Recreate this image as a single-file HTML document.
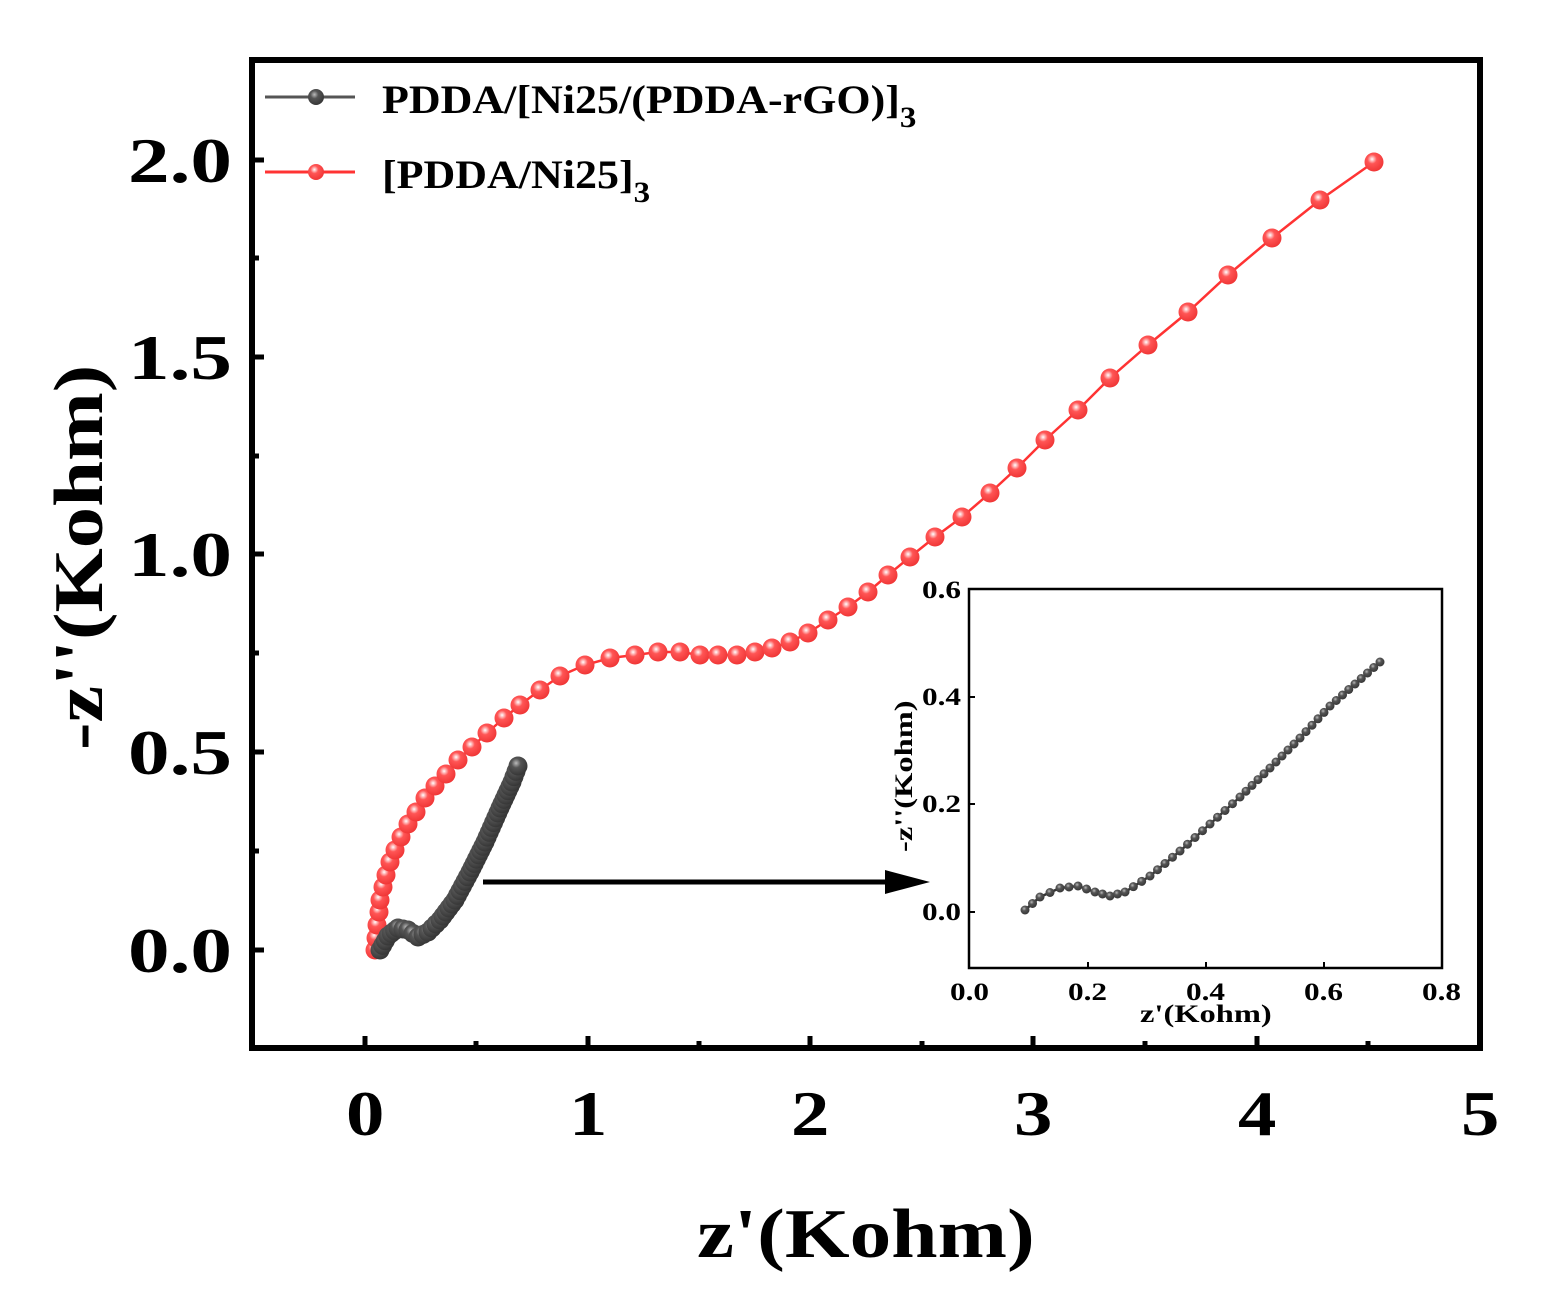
<!DOCTYPE html>
<html><head><meta charset="utf-8"><style>
body{margin:0;background:#fff}
svg text{font-family:"Liberation Serif",serif;font-weight:bold}
</style></head><body>
<svg id="s" width="1541" height="1305" viewBox="0 0 1541 1305" xmlns="http://www.w3.org/2000/svg">
<defs>
<radialGradient id="rg" cx="0.4" cy="0.35" r="0.7"><stop offset="0" stop-color="#fff"/><stop offset="0.35" stop-color="#f55"/><stop offset="1" stop-color="#e33"/></radialGradient>
<radialGradient id="gg" cx="0.4" cy="0.35" r="0.7"><stop offset="0" stop-color="#bbb"/><stop offset="0.35" stop-color="#555"/><stop offset="1" stop-color="#333"/></radialGradient>
</defs>
<rect x="252" y="60" width="1228" height="988" fill="none" stroke="#000" stroke-width="6"/>
<g stroke="#000" stroke-width="5">
<line x1="365" y1="1048" x2="365" y2="1036"/><line x1="588" y1="1048" x2="588" y2="1036"/><line x1="810" y1="1048" x2="810" y2="1036"/><line x1="1033" y1="1048" x2="1033" y2="1036"/><line x1="1257" y1="1048" x2="1257" y2="1036"/>
<line x1="476" y1="1048" x2="476" y2="1041"/><line x1="699" y1="1048" x2="699" y2="1041"/><line x1="922" y1="1048" x2="922" y2="1041"/><line x1="1145" y1="1048" x2="1145" y2="1041"/><line x1="1368" y1="1048" x2="1368" y2="1041"/>
<line x1="252" y1="950" x2="264" y2="950"/><line x1="252" y1="752" x2="264" y2="752"/><line x1="252" y1="554" x2="264" y2="554"/><line x1="252" y1="357" x2="264" y2="357"/><line x1="252" y1="160" x2="264" y2="160"/>
<line x1="252" y1="851" x2="259" y2="851"/><line x1="252" y1="653" x2="259" y2="653"/><line x1="252" y1="456" x2="259" y2="456"/><line x1="252" y1="258" x2="259" y2="258"/>
</g>
<g font-size="64">
<g transform="translate(346,1135) scale(1.2,1)"><text>0</text></g>
<g transform="translate(569,1135) scale(1.2,1)"><text>1</text></g>
<g transform="translate(791,1135) scale(1.2,1)"><text>2</text></g>
<g transform="translate(1014,1135) scale(1.2,1)"><text>3</text></g>
<g transform="translate(1238,1135) scale(1.2,1)"><text>4</text></g>
<g transform="translate(1461,1135) scale(1.2,1)"><text>5</text></g>
<g transform="translate(128,972) scale(1.3,1)"><text>0.0</text></g>
<g transform="translate(128,774) scale(1.3,1)"><text>0.5</text></g>
<g transform="translate(128,576) scale(1.3,1)"><text>1.0</text></g>
<g transform="translate(128,379) scale(1.3,1)"><text>1.5</text></g>
<g transform="translate(128,182) scale(1.3,1)"><text>2.0</text></g>
</g>
<g transform="translate(697,1257) scale(1.19,1)"><text font-size="70">z'(Kohm)</text></g>
<g transform="translate(102,750) rotate(-90) scale(1.18,1)"><text font-size="70">-z''(Kohm)</text></g>
<line x1="265" y1="97" x2="355" y2="97" stroke="#555" stroke-width="3"/><circle cx="316" cy="97" r="8" fill="url(#gg)"/>
<line x1="265" y1="172" x2="355" y2="172" stroke="#f33" stroke-width="3"/><circle cx="316" cy="172" r="8" fill="url(#rg)"/>
<g transform="translate(382,113) scale(1.1,1)"><text font-size="40">PDDA/[Ni25/(PDDA-rGO)]<tspan font-size="30" dy="14">3</tspan></text></g>
<g transform="translate(382,188) scale(1.1,1)"><text font-size="40">[PDDA/Ni25]<tspan font-size="30" dy="14">3</tspan></text></g>
<g id="red"></g><g id="gray"></g>
<line x1="483" y1="882" x2="890" y2="882" stroke="#000" stroke-width="5"/>
<polygon points="885,870 930,882 885,894" fill="#000"/>
<rect x="969" y="589" width="473" height="379" fill="none" stroke="#000" stroke-width="2.5"/>
<g stroke="#000" stroke-width="2">
<line x1="1088" y1="968" x2="1088" y2="962"/><line x1="1206" y1="968" x2="1206" y2="962"/><line x1="1324" y1="968" x2="1324" y2="962"/>
<line x1="969" y1="912" x2="975" y2="912"/><line x1="969" y1="804" x2="975" y2="804"/><line x1="969" y1="697" x2="975" y2="697"/>
</g>
<g font-size="25">
<g transform="translate(950,1000) scale(1.25,1)"><text>0.0</text></g>
<g transform="translate(1068,1000) scale(1.25,1)"><text>0.2</text></g>
<g transform="translate(1186,1000) scale(1.25,1)"><text>0.4</text></g>
<g transform="translate(1304,1000) scale(1.25,1)"><text>0.6</text></g>
<g transform="translate(1422,1000) scale(1.25,1)"><text>0.8</text></g>
<g transform="translate(922,920) scale(1.25,1)"><text>0.0</text></g>
<g transform="translate(922,812) scale(1.25,1)"><text>0.2</text></g>
<g transform="translate(922,705) scale(1.25,1)"><text>0.4</text></g>
<g transform="translate(922,598) scale(1.25,1)"><text>0.6</text></g>
<g transform="translate(1140,1022) scale(1.3,1)"><text>z'(Kohm)</text></g>
<g transform="translate(912,852) rotate(-90) scale(1.3,1)"><text>-z''(Kohm)</text></g>
</g>
<g id="ins"></g>
</svg>
<script>
var NS="http://www.w3.org/2000/svg";
function put(g,pts,r,fill,lineCol,step,dense){
  var grp=document.getElementById(g);
  var pl=document.createElementNS(NS,"polyline");
  pl.setAttribute("points",pts.map(p=>p.join(",")).join(" "));
  pl.setAttribute("fill","none");pl.setAttribute("stroke",lineCol);pl.setAttribute("stroke-width",2.5);
  grp.appendChild(pl);
  if(dense){
    for(var i=0;i<pts.length-1;i++){
      var a=pts[i],b=pts[i+1],d=Math.hypot(b[0]-a[0],b[1]-a[1]),n=Math.max(1,Math.round(d/step));
      for(var k=0;k<n;k++){var t=k/n;add(grp,a[0]+(b[0]-a[0])*t,a[1]+(b[1]-a[1])*t,r,fill);}
    }
    var l=pts[pts.length-1];add(grp,l[0],l[1],r,fill);
  } else pts.forEach(p=>add(grp,p[0],p[1],r,fill));
}
function add(g,x,y,r,f){var c=document.createElementNS(NS,"circle");c.setAttribute("cx",x);c.setAttribute("cy",y);c.setAttribute("r",r);c.setAttribute("fill",f);g.appendChild(c);}
var red=[[375,950],[376,938],[377,925],[379,912],[380,900],[383,887],[386,875],[390,862],[395,850],[401,837],[408,824],[416,812],[425,798],[435,786],[446,774],[458,760],[472,747],[487,733],[504,718],[520,705],[540,690],[560,676],[585,665],[610,658],[635,655],[658,652],[680,652],[700,655],[718,655],[737,655],[755,652],[772,648],[790,642],[808,633],[828,620],[848,607],[868,592],[888,575],[910,557],[935,537],[962,517],[990,493],[1017,468],[1045,440],[1078,410],[1110,378],[1148,345],[1188,312],[1228,275],[1272,238],[1320,200],[1374,162]];
put("red",red,9.5,"url(#rg)","#f33",0,false);
var gray=[[380,950],[388,936],[398,928],[408,930],[418,937],[428,932],[440,920],[455,900],[470,872],[485,842],[500,808],[512,782],[518,766]];
put("gray",gray,9.5,"url(#gg)","#555",5,true);
var ins=[[1025,910],[1040,897],[1060,888],[1078,886],[1095,892],[1110,896],[1125,892],[1150,876],[1180,851],[1210,824],[1240,797],[1270,768],[1300,738],[1330,706],[1355,684],[1380,662]];
put("ins",ins,4.5,"url(#gg)","#333",9,true);
</script>
</body></html>
